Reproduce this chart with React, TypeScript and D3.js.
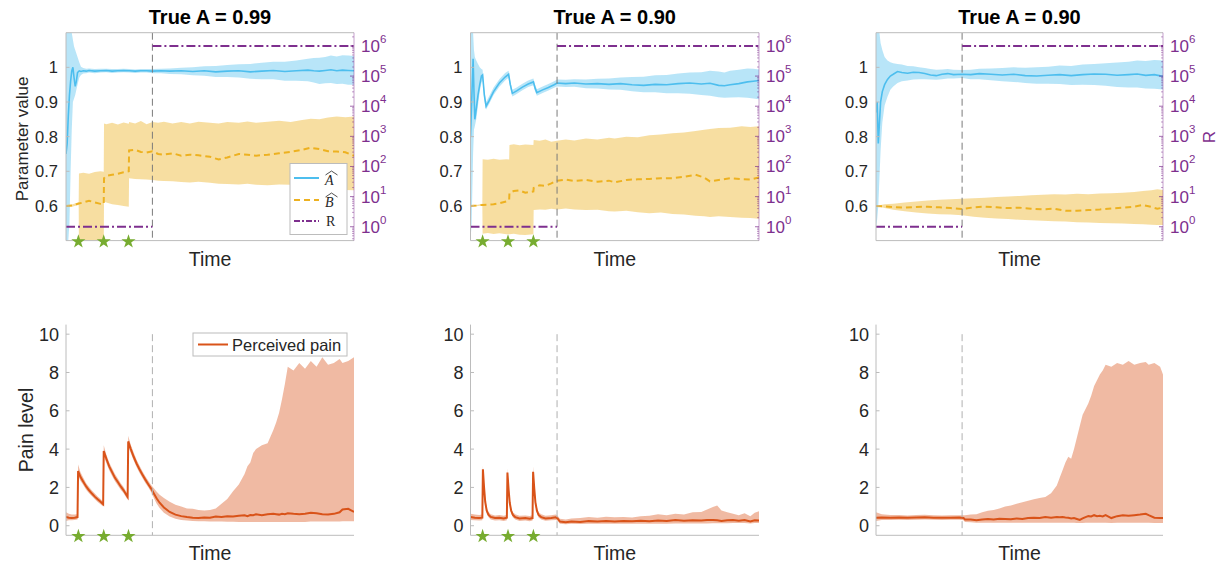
import React from "react";
import * as d3 from "d3";

// ---------------- DATA ----------------
// rows: [time, mean, lower, upper]
const paramA1: number[][] = [
  [0, 0.75, 0.45, 1.2], [0.4, 0.78, 0.45, 1.2], [0.8, 0.86, 0.5, 1.2], [1.2, 0.92, 0.55, 1.15],
  [1.6, 0.96, 0.7, 1.12], [2.0, 0.99, 0.82, 1.1], [2.4, 1.0, 0.9, 1.08], [2.8, 0.97, 0.91, 1.06],
  [3.2, 0.945, 0.92, 1.05], [3.6, 0.96, 0.935, 1.04], [4.0, 0.985, 0.95, 1.03], [4.6, 0.99, 0.97, 1.015],
  [5.2, 0.988, 0.978, 1.002], [6, 0.99, 0.982, 0.998], [7, 0.989, 0.983, 0.996], [8, 0.991, 0.985, 0.997],
  [10, 0.989, 0.983, 0.995], [12, 0.99, 0.985, 0.996], [14, 0.991, 0.986, 0.996], [16, 0.989, 0.984, 0.995],
  [18, 0.99, 0.985, 0.995], [20, 0.991, 0.986, 0.996], [22, 0.99, 0.985, 0.995], [24, 0.989, 0.984, 0.994],
  [26, 0.99, 0.985, 0.995], [28, 0.99, 0.985, 0.995], [30, 0.989, 0.983, 0.995], [33, 0.99, 0.983, 0.996],
  [36, 0.989, 0.981, 0.997], [40, 0.99, 0.98, 0.999], [44, 0.988, 0.977, 1.0], [48, 0.99, 0.976, 1.003],
  [52, 0.987, 0.972, 1.004], [56, 0.989, 0.972, 1.007], [60, 0.99, 0.971, 1.009], [64, 0.987, 0.967, 1.01],
  [68, 0.989, 0.966, 1.013], [72, 0.991, 0.966, 1.016], [76, 0.988, 0.961, 1.016], [80, 0.99, 0.961, 1.02],
  [84, 0.992, 0.96, 1.025], [86, 0.99, 0.956, 1.027], [88, 0.989, 0.952, 1.028], [90, 0.991, 0.954, 1.03],
  [92, 0.993, 0.955, 1.034], [94, 0.99, 0.952, 1.031], [96, 0.992, 0.953, 1.035], [98, 0.991, 0.95, 1.034],
  [100, 0.99, 0.95, 1.033],
];
const paramB1: number[][] = [
  [0, 0.6, 0.6, 0.6], [2, 0.601, 0.598, 0.604], [4.4, 0.607, 0.603, 0.611], [4.5, 0.607, 0.48, 0.694],
  [6, 0.61, 0.48, 0.696], [8, 0.615, 0.48, 0.693], [10, 0.61, 0.48, 0.698], [12, 0.606, 0.48, 0.7],
  [13.1, 0.605, 0.48, 0.699], [13.2, 0.68, 0.612, 0.838], [14, 0.687, 0.61, 0.836], [16, 0.69, 0.605, 0.84],
  [18, 0.693, 0.603, 0.835], [20, 0.697, 0.6, 0.841], [21.8, 0.7, 0.598, 0.837], [21.9, 0.76, 0.68, 0.842],
  [24, 0.762, 0.678, 0.838], [26, 0.756, 0.677, 0.845], [28, 0.754, 0.676, 0.836], [30, 0.758, 0.675, 0.842],
  [32, 0.75, 0.673, 0.84], [34, 0.748, 0.672, 0.843], [37, 0.752, 0.671, 0.838], [40, 0.745, 0.669, 0.842],
  [43, 0.748, 0.668, 0.838], [46, 0.746, 0.67, 0.843], [50, 0.742, 0.667, 0.84], [53, 0.734, 0.664, 0.838],
  [56, 0.74, 0.663, 0.842], [60, 0.75, 0.662, 0.84], [63, 0.748, 0.664, 0.844], [66, 0.745, 0.661, 0.84],
  [70, 0.748, 0.66, 0.843], [74, 0.752, 0.662, 0.846], [78, 0.756, 0.661, 0.842], [82, 0.762, 0.66, 0.848],
  [85, 0.768, 0.655, 0.852], [88, 0.764, 0.65, 0.85], [91, 0.758, 0.648, 0.855], [94, 0.757, 0.647, 0.858],
  [97, 0.755, 0.646, 0.856], [100, 0.745, 0.645, 0.858],
];
const paramA2: number[][] = [
  [0, 0.8, 0.5, 1.15], [0.4, 0.9, 0.55, 1.12], [0.9, 1.025, 0.75, 1.1], [1.2, 0.93, 0.82, 1.05],
  [1.5, 0.85, 0.83, 1.03], [2.0, 0.88, 0.85, 1.02], [2.6, 0.92, 0.89, 1.01], [3.2, 0.95, 0.93, 1.0],
  [3.8, 0.975, 0.955, 0.995], [4.2, 0.978, 0.962, 0.993], [4.8, 0.92, 0.905, 0.935], [5.4, 0.888, 0.878, 0.9],
  [6.5, 0.905, 0.895, 0.917], [8, 0.93, 0.92, 0.942], [10, 0.955, 0.944, 0.966], [12, 0.972, 0.962, 0.984],
  [13.2, 0.98, 0.97, 0.99], [13.8, 0.95, 0.94, 0.96], [14.5, 0.925, 0.916, 0.935], [16, 0.932, 0.923, 0.942],
  [18, 0.943, 0.934, 0.953], [20, 0.952, 0.943, 0.962], [21.8, 0.958, 0.948, 0.968], [22.4, 0.94, 0.93, 0.95],
  [23, 0.927, 0.918, 0.937], [25, 0.935, 0.926, 0.945], [27, 0.942, 0.933, 0.952], [29, 0.95, 0.941, 0.96],
  [30, 0.955, 0.945, 0.965], [33, 0.953, 0.943, 0.964], [36, 0.955, 0.944, 0.966], [40, 0.952, 0.94, 0.965],
  [44, 0.953, 0.939, 0.967], [48, 0.951, 0.936, 0.968], [52, 0.953, 0.935, 0.971], [56, 0.95, 0.931, 0.972],
  [60, 0.948, 0.928, 0.973], [64, 0.951, 0.928, 0.977], [68, 0.95, 0.925, 0.978], [72, 0.953, 0.925, 0.982],
  [76, 0.955, 0.924, 0.985], [80, 0.952, 0.92, 0.986], [83, 0.954, 0.918, 0.99], [86, 0.948, 0.914, 0.988],
  [88, 0.947, 0.912, 0.985], [90, 0.95, 0.913, 0.99], [93, 0.953, 0.914, 0.993], [96, 0.958, 0.912, 0.997],
  [98, 0.96, 0.91, 0.996], [100, 0.962, 0.908, 0.994],
];
const paramB2: number[][] = [
  [0, 0.6, 0.6, 0.6], [2, 0.601, 0.599, 0.603], [4.1, 0.603, 0.601, 0.606], [4.2, 0.603, 0.52, 0.735],
  [6, 0.604, 0.522, 0.733], [8, 0.605, 0.519, 0.736], [10, 0.608, 0.521, 0.733], [12.5, 0.613, 0.518, 0.735],
  [13.4, 0.617, 0.518, 0.734], [13.5, 0.638, 0.518, 0.776], [15, 0.643, 0.52, 0.778], [17, 0.645, 0.517, 0.775],
  [19, 0.638, 0.516, 0.777], [21.8, 0.642, 0.518, 0.776], [21.9, 0.652, 0.588, 0.79], [24, 0.66, 0.59, 0.788],
  [26, 0.658, 0.589, 0.792], [28, 0.665, 0.592, 0.785], [30, 0.673, 0.59, 0.788], [33, 0.676, 0.593, 0.792],
  [36, 0.672, 0.59, 0.789], [40, 0.675, 0.588, 0.795], [44, 0.67, 0.589, 0.792], [48, 0.673, 0.585, 0.797],
  [50, 0.668, 0.584, 0.795], [54, 0.675, 0.586, 0.8], [58, 0.677, 0.582, 0.798], [62, 0.678, 0.579, 0.804],
  [66, 0.68, 0.581, 0.806], [70, 0.68, 0.577, 0.81], [74, 0.684, 0.575, 0.812], [78, 0.69, 0.572, 0.816],
  [81, 0.682, 0.57, 0.82], [83, 0.671, 0.568, 0.822], [86, 0.675, 0.57, 0.825], [90, 0.68, 0.568, 0.826],
  [94, 0.677, 0.566, 0.83], [97, 0.676, 0.565, 0.828], [100, 0.682, 0.563, 0.83],
];
const paramA3: number[][] = [
  [0, 0.87, 0.54, 1.15], [0.4, 0.9, 0.56, 1.15], [0.8, 0.78, 0.6, 1.12], [1.2, 0.84, 0.68, 1.1],
  [1.6, 0.9, 0.76, 1.07], [2.2, 0.93, 0.84, 1.05], [3, 0.95, 0.89, 1.03], [4, 0.965, 0.915, 1.02],
  [5, 0.975, 0.935, 1.015], [6, 0.98, 0.945, 1.012], [7.5, 0.988, 0.955, 1.01], [9, 0.985, 0.96, 1.008],
  [11, 0.983, 0.962, 1.004], [13, 0.986, 0.965, 1.003], [15, 0.985, 0.966, 1.0], [17, 0.982, 0.966, 0.998],
  [19, 0.978, 0.965, 0.995], [21, 0.976, 0.964, 0.993], [23, 0.98, 0.966, 0.994], [25, 0.982, 0.968, 0.995],
  [27, 0.979, 0.968, 0.993], [30, 0.98, 0.969, 0.992], [33, 0.979, 0.966, 0.993], [36, 0.982, 0.966, 0.996],
  [40, 0.98, 0.963, 0.997], [44, 0.978, 0.96, 0.998], [48, 0.98, 0.958, 1.0], [52, 0.976, 0.955, 0.999],
  [56, 0.975, 0.953, 1.0], [60, 0.977, 0.953, 1.002], [64, 0.979, 0.952, 1.005], [68, 0.976, 0.949, 1.004],
  [72, 0.979, 0.95, 1.008], [76, 0.981, 0.949, 1.01], [80, 0.98, 0.947, 1.012], [84, 0.977, 0.943, 1.014],
  [88, 0.979, 0.942, 1.016], [91, 0.981, 0.942, 1.02], [94, 0.977, 0.939, 1.018], [97, 0.979, 0.938, 1.021],
  [100, 0.974, 0.936, 1.02],
];
const paramB3: number[][] = [
  [0, 0.6, 0.6, 0.6], [3, 0.599, 0.594, 0.605], [6, 0.597, 0.589, 0.606], [10, 0.595, 0.585, 0.61],
  [14, 0.597, 0.581, 0.613], [18, 0.598, 0.578, 0.616], [22, 0.596, 0.576, 0.618], [26, 0.594, 0.575, 0.619],
  [30, 0.591, 0.573, 0.621], [34, 0.596, 0.569, 0.622], [38, 0.598, 0.566, 0.624], [42, 0.596, 0.564, 0.626],
  [46, 0.594, 0.562, 0.627], [50, 0.595, 0.56, 0.629], [54, 0.592, 0.559, 0.631], [58, 0.59, 0.557, 0.632],
  [62, 0.592, 0.556, 0.634], [66, 0.586, 0.555, 0.633], [70, 0.586, 0.553, 0.635], [74, 0.588, 0.552, 0.634],
  [78, 0.59, 0.551, 0.636], [82, 0.593, 0.55, 0.637], [86, 0.595, 0.549, 0.638], [90, 0.598, 0.548, 0.64],
  [93, 0.603, 0.547, 0.643], [96, 0.597, 0.546, 0.645], [98, 0.592, 0.545, 0.648], [100, 0.595, 0.545, 0.646],
];
const pain1: number[][] = [
  [0, 0.45, 0.25, 0.7], [1, 0.42, 0.28, 0.62], [2, 0.4, 0.28, 0.58], [3, 0.42, 0.3, 0.58], [4, 0.45, 0.32, 0.6],
  [4.2, 2.85, 2.6, 3.2], [5, 2.55, 2.35, 2.8], [6, 2.3, 2.12, 2.5], [7, 2.05, 1.88, 2.22], [8, 1.85, 1.7, 2.02],
  [9, 1.68, 1.54, 1.84], [10, 1.52, 1.38, 1.68], [11, 1.38, 1.24, 1.52], [12, 1.25, 1.12, 1.4],
  [12.9, 1.12, 1.0, 1.26], [13.1, 3.9, 3.65, 4.2], [14, 3.5, 3.28, 3.72], [15, 3.1, 2.9, 3.3], [16, 2.8, 2.6, 3.0],
  [17, 2.5, 2.32, 2.7], [18, 2.28, 2.1, 2.46], [19, 2.05, 1.88, 2.22], [20, 1.85, 1.7, 2.02],
  [21.4, 1.5, 1.36, 1.66], [21.6, 4.4, 4.15, 4.7], [22.5, 4.0, 3.78, 4.22], [23.5, 3.6, 3.4, 3.82],
  [24.5, 3.25, 3.06, 3.45], [25.5, 2.95, 2.77, 3.14], [26.5, 2.68, 2.5, 2.86], [27.5, 2.42, 2.25, 2.6],
  [28.5, 2.18, 2.02, 2.36], [29.5, 1.95, 1.78, 2.14], [30.5, 1.68, 1.45, 1.95], [31.5, 1.42, 1.15, 1.78],
  [32.5, 1.2, 0.92, 1.62], [34, 0.95, 0.68, 1.45], [36, 0.72, 0.48, 1.25], [38, 0.58, 0.36, 1.1],
  [40, 0.5, 0.3, 1.0], [42, 0.45, 0.27, 0.9], [44, 0.42, 0.25, 0.88], [46, 0.4, 0.24, 0.82], [48, 0.43, 0.23, 0.8],
  [50, 0.42, 0.22, 0.82], [52, 0.48, 0.22, 0.9], [54, 0.46, 0.22, 1.15], [56, 0.5, 0.21, 1.4], [58, 0.48, 0.21, 1.8],
  [60, 0.52, 0.2, 2.15], [62, 0.55, 0.2, 2.7], [63, 0.5, 0.2, 3.1], [64, 0.56, 0.2, 3.3], [65, 0.55, 0.2, 3.8],
  [66, 0.6, 0.2, 4.0], [68, 0.55, 0.2, 4.2], [70, 0.6, 0.2, 4.3], [72, 0.62, 0.2, 5.0], [73, 0.6, 0.2, 5.4],
  [74, 0.58, 0.2, 5.9], [75, 0.62, 0.2, 6.6], [76, 0.6, 0.2, 7.4], [77, 0.65, 0.2, 8.3], [79, 0.62, 0.2, 8.1],
  [81, 0.6, 0.2, 8.5], [83, 0.63, 0.2, 8.2], [85, 0.68, 0.22, 8.6], [87, 0.65, 0.22, 8.3], [89, 0.6, 0.22, 8.8],
  [91, 0.58, 0.22, 8.4], [93, 0.62, 0.22, 8.5], [95, 0.7, 0.22, 8.7], [96, 0.85, 0.24, 8.5], [98, 0.88, 0.24, 8.6],
  [100, 0.72, 0.24, 8.8],
];
const pain2: number[][] = [
  [0, 0.45, 0.3, 0.62], [1.5, 0.42, 0.28, 0.58], [3, 0.4, 0.27, 0.56], [4.1, 0.42, 0.28, 0.58],
  [4.3, 2.95, 2.7, 3.15], [4.7, 2.0, 1.82, 2.2], [5.1, 1.25, 1.1, 1.42], [5.6, 0.8, 0.66, 0.96],
  [6.2, 0.58, 0.45, 0.73], [7, 0.46, 0.33, 0.6], [8.5, 0.4, 0.27, 0.54], [10, 0.42, 0.28, 0.56],
  [11.5, 0.38, 0.25, 0.52], [12.6, 0.42, 0.28, 0.56], [12.8, 2.78, 2.55, 3.0], [13.2, 1.9, 1.72, 2.1],
  [13.6, 1.2, 1.05, 1.38], [14.1, 0.78, 0.64, 0.94], [14.7, 0.56, 0.43, 0.7], [15.5, 0.45, 0.32, 0.6],
  [17, 0.38, 0.25, 0.52], [19, 0.4, 0.27, 0.54], [20.5, 0.37, 0.24, 0.51], [21.5, 0.4, 0.27, 0.55],
  [21.7, 2.82, 2.6, 3.1], [22.1, 1.95, 1.76, 2.15], [22.5, 1.22, 1.06, 1.4], [23, 0.8, 0.66, 0.96],
  [23.6, 0.56, 0.43, 0.7], [24.5, 0.45, 0.32, 0.6], [26, 0.38, 0.26, 0.52], [28, 0.4, 0.28, 0.55],
  [29.5, 0.44, 0.3, 0.58], [30.2, 0.38, 0.26, 0.52], [31, 0.22, 0.1, 0.36], [33, 0.18, 0.08, 0.32],
  [35, 0.22, 0.1, 0.38], [38, 0.2, 0.09, 0.4], [41, 0.24, 0.1, 0.45], [44, 0.22, 0.1, 0.42],
  [47, 0.25, 0.1, 0.47], [50, 0.22, 0.1, 0.44], [53, 0.25, 0.1, 0.45], [56, 0.23, 0.1, 0.43],
  [59, 0.26, 0.1, 0.5], [62, 0.24, 0.1, 0.52], [65, 0.27, 0.1, 0.6], [68, 0.25, 0.1, 0.55],
  [71, 0.3, 0.11, 0.62], [74, 0.26, 0.11, 0.58], [77, 0.28, 0.11, 0.7], [80, 0.27, 0.12, 0.72],
  [82, 0.3, 0.12, 0.85], [84, 0.3, 0.13, 0.98], [85.5, 0.28, 0.13, 1.05], [87, 0.25, 0.13, 0.8],
  [89, 0.28, 0.13, 0.7], [91, 0.3, 0.14, 0.62], [93, 0.26, 0.14, 0.55], [95, 0.3, 0.14, 0.65],
  [97, 0.22, 0.12, 0.5], [98.5, 0.28, 0.14, 0.68], [100, 0.27, 0.14, 0.75],
];
const pain3: number[][] = [
  [0, 0.42, 0.25, 0.7], [2, 0.43, 0.3, 0.6], [5, 0.42, 0.3, 0.56], [8, 0.43, 0.31, 0.56], [11, 0.41, 0.3, 0.54],
  [14, 0.43, 0.31, 0.56], [17, 0.44, 0.32, 0.57], [20, 0.42, 0.31, 0.55], [23, 0.41, 0.3, 0.54],
  [26, 0.42, 0.31, 0.55], [29, 0.43, 0.31, 0.55], [30.5, 0.4, 0.28, 0.55], [31, 0.33, 0.2, 0.55],
  [33, 0.32, 0.18, 0.58], [35, 0.28, 0.16, 0.6], [37, 0.32, 0.16, 0.7], [39, 0.35, 0.15, 0.78],
  [41, 0.33, 0.15, 0.82], [43, 0.36, 0.15, 0.9], [45, 0.35, 0.15, 1.0], [47, 0.34, 0.15, 1.05],
  [49, 0.38, 0.15, 1.15], [51, 0.35, 0.15, 1.22], [53, 0.4, 0.15, 1.3], [55, 0.42, 0.15, 1.38],
  [57, 0.4, 0.15, 1.45], [59, 0.45, 0.15, 1.5], [61, 0.42, 0.15, 1.7], [63, 0.46, 0.15, 2.1],
  [64, 0.44, 0.15, 2.5], [65, 0.45, 0.15, 2.9], [66, 0.43, 0.15, 3.3], [67, 0.42, 0.15, 3.6],
  [68, 0.38, 0.15, 3.5], [69, 0.4, 0.15, 4.0], [70, 0.35, 0.14, 4.6], [71, 0.3, 0.14, 5.2],
  [72, 0.38, 0.14, 5.8], [73, 0.45, 0.15, 6.1], [74, 0.5, 0.15, 6.4], [75, 0.48, 0.15, 6.8],
  [76, 0.55, 0.15, 7.3], [77, 0.5, 0.15, 7.6], [78, 0.52, 0.15, 7.9], [79, 0.48, 0.15, 8.1],
  [80, 0.55, 0.15, 8.4], [82, 0.4, 0.14, 8.3], [84, 0.5, 0.15, 8.5], [86, 0.55, 0.15, 8.4],
  [88, 0.52, 0.15, 8.6], [90, 0.55, 0.15, 8.4], [92, 0.58, 0.15, 8.5], [94, 0.62, 0.15, 8.55],
  [95, 0.55, 0.15, 8.4], [97, 0.42, 0.14, 8.5], [99, 0.4, 0.14, 8.3], [100, 0.4, 0.14, 7.9],
];
const stimTimes1 = [4.3, 13.1, 21.7];
const stimTimes2 = [4.2, 13.0, 21.8];
const stimTimes3: number[] = [];
const titles = ["True A = 0.99", "True A = 0.90", "True A = 0.90"];
const paramTicks = [0.6, 0.7, 0.8, 0.9, 1];
const painTicks = [0, 2, 4, 6, 8, 10];
const rTickExponents = [0, 1, 2, 3, 4, 5, 6];
const switchTime = 30;
const rLow = 1;
const rHigh = 1e6;
const paramDomain = [0.5, 1.1];
const rDomain = [Math.pow(10, -0.46), Math.pow(10, 6.44)];
const painDomain = [-0.5, 10.5];
const timeDomain = [0, 100];

// ---------------- STYLE ----------------
const FONT = "'Liberation Sans', Arial, Helvetica, sans-serif";
const SERIF = "'Liberation Serif', 'DejaVu Serif', serif";
const BLUE = "#4DBEEE";
const ORANGE = "#EDB120";
const PURPLE = "#7E2F8E";
const RED = "#D95319";
const GREEN = "#77AC30";
const AXIS = "#bcbcbc";
const TXT = "#262626";

const COLS = [
  { x0: 66, x1: 354 },
  { x0: 470.5, x1: 759 },
  { x0: 876, x1: 1163 },
];
const TOP = { yT: 32.7, yB: 240.6 };
const BOT = { yT: 324.6, yB: 535.3 };

const starPath = d3.symbol().type(d3.symbolStar).size(62)() as string;

function TopPanel({ idx, a, b, stim }: { idx: number; a: number[][]; b: number[][]; stim: number[] }) {
  const { x0, x1 } = COLS[idx];
  const x = d3.scaleLinear().domain(timeDomain).range([x0, x1]);
  const y = d3.scaleLinear().domain(paramDomain).range([TOP.yB, TOP.yT]);
  const yr = d3.scaleLog().domain(rDomain).range([TOP.yB, TOP.yT]);
  const area = d3.area<number[]>().x((d) => x(d[0])).y0((d) => y(d[2])).y1((d) => y(d[3]));
  const line = d3.line<number[]>().x((d) => x(d[0])).y((d) => y(d[1]));
  const rLine = d3.line<number[]>().x((d) => x(d[0])).y((d) => yr(d[1]));
  const clip = `clipTop${idx}`;
  const minor: number[] = [];
  for (let e = -1; e <= 6; e++) for (let m = 2; m <= 9; m++) {
    const v = m * Math.pow(10, e);
    if (v >= rDomain[0] && v <= rDomain[1]) minor.push(v);
  }
  const cx = (x0 + x1) / 2;
  return (
    <g>
      <defs>
        <clipPath id={clip}>
          <rect x={x0} y={TOP.yT} width={x1 - x0} height={TOP.yB - TOP.yT} />
        </clipPath>
      </defs>
      <g clipPath={`url(#${clip})`}>
        <path d={area(b) as string} fill={ORANGE} fillOpacity={0.42} />
        <path d={area(a) as string} fill={BLUE} fillOpacity={0.4} />
        <path d={line(a) as string} fill="none" stroke={BLUE} strokeWidth={1.6} />
        <path d={line(b) as string} fill="none" stroke={ORANGE} strokeWidth={2} strokeDasharray="6,4" />
        <line x1={x(switchTime)} x2={x(switchTime)} y1={TOP.yT} y2={TOP.yB} stroke="#7a7a7a" strokeWidth={1} strokeDasharray="7,4" />
        <path d={rLine([[timeDomain[0], rLow], [switchTime, rLow]]) as string} fill="none" stroke={PURPLE} strokeWidth={2} strokeDasharray="9,3,2,3" />
        <path d={rLine([[switchTime, rHigh], [timeDomain[1], rHigh]]) as string} fill="none" stroke={PURPLE} strokeWidth={2} strokeDasharray="9,3,2,3" />
      </g>
      <line x1={x0} x2={x1} y1={TOP.yT} y2={TOP.yT} stroke={AXIS} />
      <line x1={x0} x2={x1} y1={TOP.yB} y2={TOP.yB} stroke={AXIS} />
      <line x1={x0} x2={x0} y1={TOP.yT} y2={TOP.yB} stroke={AXIS} />
      <line x1={x1} x2={x1} y1={TOP.yT} y2={TOP.yB} stroke={PURPLE} strokeOpacity={0.45} />
      {paramTicks.map((t) => (
        <g key={t}>
          <line x1={x0} x2={x0 + 3.5} y1={y(t)} y2={y(t)} stroke={AXIS} />
          <text x={x0 - 8} y={y(t)} dy="0.36em" textAnchor="end" fontSize={16.5} fill={TXT} fontFamily={FONT}>{String(t)}</text>
        </g>
      ))}
      {minor.map((v, i) => (
        <line key={i} x1={x1 - 2} x2={x1} y1={yr(v)} y2={yr(v)} stroke={PURPLE} strokeOpacity={0.6} strokeWidth={0.8} />
      ))}
      {rTickExponents.map((e) => (
        <g key={e}>
          <line x1={x1 - 4} x2={x1} y1={yr(Math.pow(10, e))} y2={yr(Math.pow(10, e))} stroke={PURPLE} strokeOpacity={0.7} />
          <text x={x1 + 7} y={yr(Math.pow(10, e)) + 6} fontSize={17} fill={PURPLE} fontFamily={FONT}>
            10<tspan dy={-9} fontSize={11.5}>{String(e)}</tspan>
          </text>
        </g>
      ))}
      {stim.map((t, i) => (
        <path key={i} d={starPath} transform={`translate(${x(t)},${y(paramDomain[0]) + 1})`} fill={GREEN} />
      ))}
      <text x={cx} y={24} textAnchor="middle" fontSize={20} fontWeight="bold" fill="#000" fontFamily={FONT}>{titles[idx]}</text>
      <text x={cx} y={265.5} textAnchor="middle" fontSize={19.5} fill={TXT} fontFamily={FONT}>Time</text>
      {idx === 0 && (
        <text transform={`translate(28,139) rotate(-90)`} textAnchor="middle" fontSize={17} fill={TXT} fontFamily={FONT}>Parameter value</text>
      )}
      {idx === 2 && (
        <text transform={`translate(1215,137) rotate(-90)`} textAnchor="middle" fontSize={17} fill={PURPLE} fontFamily={FONT}>R</text>
      )}
      {idx === 0 && (
        <g>
          <rect x={290} y={163.5} width={57} height={71} fill="#fff" stroke={AXIS} />
          <line x1={294} x2={319} y1={178} y2={178} stroke={BLUE} strokeWidth={2} />
          <line x1={294} x2={319} y1={200} y2={200} stroke={ORANGE} strokeWidth={2} strokeDasharray="6,4" />
          <line x1={294} x2={319} y1={221} y2={221} stroke={PURPLE} strokeWidth={2} strokeDasharray="6,2,2,2" />
          <text x={325} y={184.5} fontSize={14} fontStyle="italic" fill={TXT} fontFamily={SERIF}>A</text>
          <path d="M 325.5 175 L 331.5 171 L 337.5 175" fill="none" stroke={TXT} strokeWidth={0.8} />
          <text x={325} y={206.5} fontSize={14} fontStyle="italic" fill={TXT} fontFamily={SERIF}>B</text>
          <path d="M 325.5 197 L 331.5 193 L 337.5 197" fill="none" stroke={TXT} strokeWidth={0.8} />
          <text x={326} y={226} fontSize={14} fill={TXT} fontFamily={SERIF}>R</text>
        </g>
      )}
    </g>
  );
}

function BottomPanel({ idx, p, stim }: { idx: number; p: number[][]; stim: number[] }) {
  const { x0, x1 } = COLS[idx];
  const x = d3.scaleLinear().domain(timeDomain).range([x0, x1]);
  const y = d3.scaleLinear().domain(painDomain).range([BOT.yB, BOT.yT]);
  const area = d3.area<number[]>().x((d) => x(d[0])).y0((d) => y(d[2])).y1((d) => y(d[3]));
  const line = d3.line<number[]>().x((d) => x(d[0])).y((d) => y(d[1]));
  const clip = `clipBot${idx}`;
  const cx = (x0 + x1) / 2;
  return (
    <g>
      <defs>
        <clipPath id={clip}>
          <rect x={x0} y={BOT.yT} width={x1 - x0} height={BOT.yB - BOT.yT} />
        </clipPath>
      </defs>
      <g clipPath={`url(#${clip})`}>
        <path d={area(p) as string} fill={RED} fillOpacity={0.4} />
        <path d={line(p) as string} fill="none" stroke={RED} strokeWidth={2} />
      </g>
      <line x1={x(switchTime)} x2={x(switchTime)} y1={y(10)} y2={BOT.yB} stroke="#b0b0b0" strokeWidth={1} strokeDasharray="7,4" />
      <line x1={x0} x2={x1} y1={BOT.yB} y2={BOT.yB} stroke={AXIS} />
      <line x1={x0} x2={x0} y1={BOT.yT} y2={BOT.yB} stroke={AXIS} />
      {painTicks.map((t) => (
        <g key={t}>
          <line x1={x0} x2={x0 + 3.5} y1={y(t)} y2={y(t)} stroke={AXIS} />
          <text x={x0 - 7} y={y(t)} dy="0.36em" textAnchor="end" fontSize={18} fill={TXT} fontFamily={FONT}>{String(t)}</text>
        </g>
      ))}
      {stim.map((t, i) => (
        <path key={i} d={starPath} transform={`translate(${x(t)},${BOT.yB + 1})`} fill={GREEN} />
      ))}
      <text x={cx} y={560} textAnchor="middle" fontSize={19.5} fill={TXT} fontFamily={FONT}>Time</text>
      {idx === 0 && (
        <text transform={`translate(33,430) rotate(-90)`} textAnchor="middle" fontSize={19.5} fill={TXT} fontFamily={FONT}>Pain level</text>
      )}
      {idx === 0 && (
        <g>
          <rect x={193} y={333} width={154} height={23} fill="#fff" stroke={AXIS} />
          <line x1={198} x2={228} y1={344.5} y2={344.5} stroke={RED} strokeWidth={2} />
          <text x={232} y={350.5} fontSize={16.5} fill={TXT} fontFamily={FONT}>Perceived pain</text>
        </g>
      )}
    </g>
  );
}

export default function App() {
  return (
    <svg width={1231} height={565} style={{ position: "absolute", left: 0, top: 0, background: "#fff" }}>
      <rect x={0} y={0} width={1231} height={565} fill="#fff" />
      <TopPanel idx={0} a={paramA1} b={paramB1} stim={stimTimes1} />
      <TopPanel idx={1} a={paramA2} b={paramB2} stim={stimTimes2} />
      <TopPanel idx={2} a={paramA3} b={paramB3} stim={stimTimes3} />
      <BottomPanel idx={0} p={pain1} stim={stimTimes1} />
      <BottomPanel idx={1} p={pain2} stim={stimTimes2} />
      <BottomPanel idx={2} p={pain3} stim={stimTimes3} />
    </svg>
  );
}
